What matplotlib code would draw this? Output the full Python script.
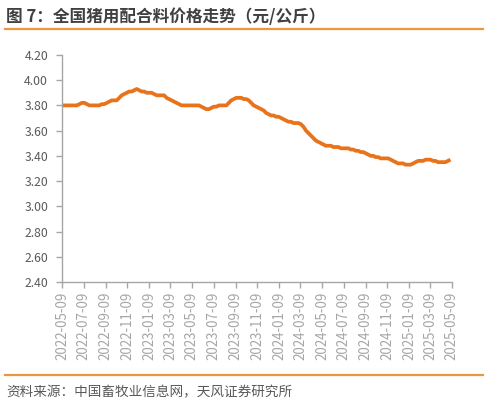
import matplotlib
matplotlib.use('Agg')
import matplotlib.pyplot as plt
import pandas as pd

plt.rcParams['font.family'] = ['Noto Sans CJK SC', 'DejaVu Sans']

# 全国猪用配合料价格（元/公斤），周度
start_date = "2022-05-09"
prices = [
    3.80, 3.80, 3.80, 3.80, 3.80, 3.80, 3.80, 3.81, 3.82, 3.82,
    3.81, 3.80, 3.80, 3.80, 3.80, 3.80, 3.81, 3.81, 3.82, 3.83,
    3.84, 3.84, 3.84, 3.86, 3.88, 3.89, 3.90, 3.91, 3.91, 3.92,
    3.93, 3.92, 3.91, 3.91, 3.90, 3.90, 3.90, 3.89, 3.88, 3.88,
    3.88, 3.88, 3.86, 3.85, 3.84, 3.83, 3.82, 3.81, 3.80, 3.80,
    3.80, 3.80, 3.80, 3.80, 3.80, 3.80, 3.79, 3.78, 3.77, 3.77,
    3.78, 3.79, 3.79, 3.80, 3.80, 3.80, 3.80, 3.82, 3.84, 3.85,
    3.86, 3.86, 3.86, 3.85, 3.85, 3.84, 3.82, 3.80, 3.79, 3.78,
    3.77, 3.76, 3.74, 3.73, 3.72, 3.72, 3.71, 3.71, 3.70, 3.69,
    3.68, 3.67, 3.67, 3.66, 3.66, 3.66, 3.65, 3.63, 3.60, 3.58,
    3.56, 3.54, 3.52, 3.51, 3.50, 3.49, 3.48, 3.48, 3.48, 3.47,
    3.47, 3.47, 3.46, 3.46, 3.46, 3.46, 3.45, 3.45, 3.44, 3.44,
    3.43, 3.43, 3.42, 3.41, 3.40, 3.40, 3.39, 3.39, 3.38, 3.38,
    3.38, 3.38, 3.37, 3.36, 3.35, 3.34, 3.34, 3.34, 3.33, 3.33,
    3.33, 3.34, 3.35, 3.36, 3.36, 3.36, 3.37, 3.37, 3.37, 3.36,
    3.36, 3.35, 3.35, 3.35, 3.35, 3.36, 3.37,
]
tick_labels = [
    "2022-05-09", "2022-07-09", "2022-09-09", "2022-11-09", "2023-01-09",
    "2023-03-09", "2023-05-09", "2023-07-09", "2023-09-09", "2023-11-09",
    "2024-01-09", "2024-03-09", "2024-05-09", "2024-07-09", "2024-09-09",
    "2024-11-09", "2025-01-09", "2025-03-09", "2025-05-09",
]
y_ticks = [2.40, 2.60, 2.80, 3.00, 3.20, 3.40, 3.60, 3.80, 4.00, 4.20]

dates = pd.date_range(start_date, periods=len(prices), freq="7D")
tick_dates = pd.to_datetime(tick_labels)

fig = plt.figure(figsize=(4.88, 4.04), dpi=100)
ax = fig.add_axes([0.127, 0.302, 0.799, 0.562])

ax.plot(dates, prices, color="#E8731A", linewidth=2.7, solid_capstyle="butt")

ax.set_xlim(tick_dates[0], tick_dates[-1])
ax.set_ylim(2.40, 4.20)
ax.set_yticks(y_ticks)
ax.set_yticklabels([f"{v:.2f}" for v in y_ticks])
ax.set_xticks(tick_dates)
ax.set_xticklabels(tick_labels, rotation=90, fontsize=9.6, color="#404040")

axis_gray = "#A6A6A6"
for side in ["top", "right"]:
    ax.spines[side].set_visible(False)
for side in ["left", "bottom"]:
    ax.spines[side].set_color(axis_gray)
    ax.spines[side].set_linewidth(1.0)
ax.tick_params(axis="both", colors=axis_gray, length=4, width=1.0)
ax.tick_params(axis="y", pad=6, labelcolor="#595959", labelsize=8.8)
ax.tick_params(axis="x", pad=3)

# 标题与分隔线
fig.text(0.012, 0.958, "图 7：全国猪用配合料价格走势（元/公斤）", fontsize=12,
         fontweight="bold", color="#404040", ha="left", va="center")
fig.add_artist(plt.Line2D([0.01, 0.99], [0.927, 0.927], color="#F0953F", linewidth=1.6))
fig.add_artist(plt.Line2D([0.01, 0.99], [0.072, 0.072], color="#F0953F", linewidth=1.6))
fig.text(0.012, 0.030, "资料来源：中国畜牧业信息网，天风证券研究所", fontsize=9.8,
         color="#595959", ha="left", va="center")

fig.savefig("out.png", dpi=100)
plt.close(fig)
